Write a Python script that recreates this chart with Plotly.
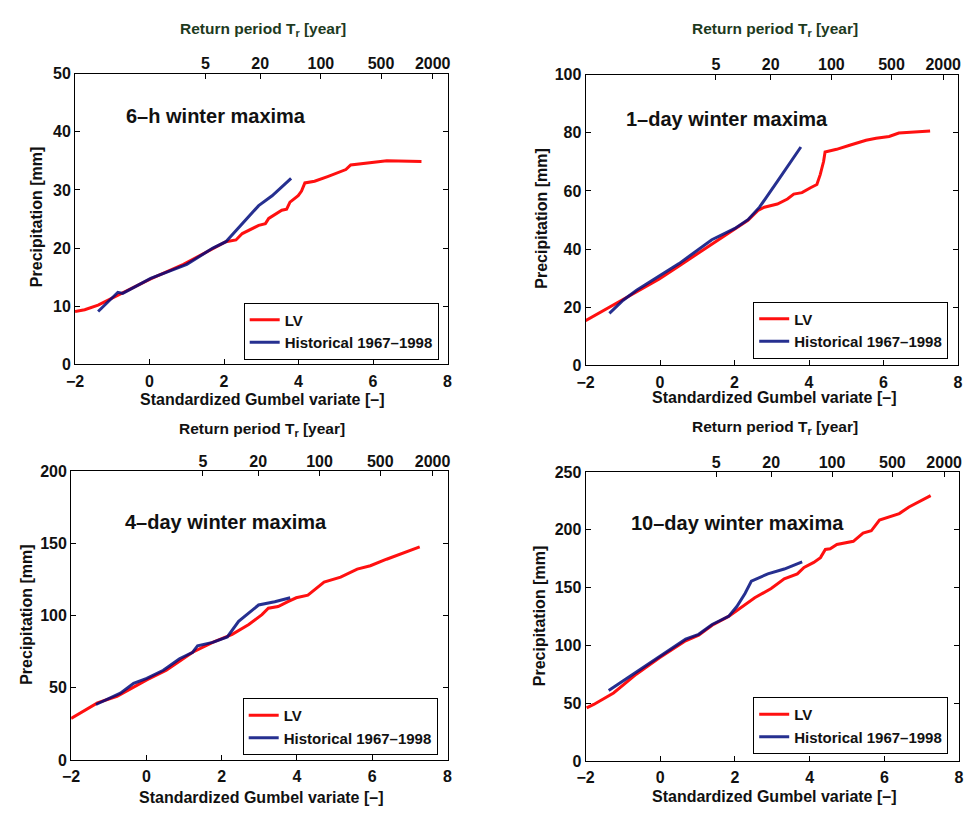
import numpy as np
import plotly.graph_objects as go

# ---------------- data ----------------
panel_titles = ["6\u2013h winter maxima", "1\u2013day winter maxima",
                "4\u2013day winter maxima", "10\u2013day winter maxima"]
y_ranges = [[0, 50], [0, 100], [0, 200], [0, 250]]
y_dticks = [10, 20, 50, 50]

return_periods = [5, 20, 100, 500, 2000]
return_labels = ["5", "20", "100", "500", "2000"]
x_ticks = [-2, 0, 2, 4, 6, 8]

# 6-h
lv_6h_x = [-2.0, -1.74, -1.38, -0.85, 0.03, 0.91, 1.7, 2.05, 2.32, 2.49, 2.93, 3.11, 3.2, 3.55, 3.68,
           3.77, 3.99, 4.08, 4.17, 4.43, 4.78, 5.05, 5.27, 5.4, 5.75, 6.37, 7.3]
lv_6h_y = [9.1, 9.4, 10.2, 11.9, 14.7, 17.2, 20.0, 21.1, 21.4, 22.5, 23.9, 24.2, 25.1, 26.5, 26.7,
           27.9, 29.0, 29.8, 31.2, 31.5, 32.3, 32.9, 33.5, 34.3, 34.6, 35.0, 34.9]
hist_6h_x = [-1.38, -1.12, -0.85, -0.72, 0.03, 1.0, 1.7, 2.05, 2.41, 2.93, 3.29, 3.8]
hist_6h_y = [9.1, 10.8, 12.4, 12.2, 14.8, 17.2, 20.0, 21.1, 23.6, 27.3, 29.0, 32.0]

# 1-day
lv_1d_x = [-2.0, -1.34, -0.63, -0.02, 0.51, 1.04, 1.57, 2.01, 2.36, 2.63, 2.8, 3.15, 3.42, 3.59, 3.81,
           4.04, 4.21, 4.3, 4.39, 4.43, 4.74, 5.09, 5.53, 5.8, 6.15, 6.41, 6.85, 7.25]
lv_1d_y = [15.4, 20.2, 25.2, 29.7, 34.2, 38.7, 43.2, 46.7, 49.9, 53.3, 54.4, 55.5, 57.2, 58.9, 59.4,
           61.1, 62.2, 65.6, 70.1, 73.4, 74.3, 75.7, 77.4, 78.1, 78.7, 79.9, 80.4, 80.6]
hist_1d_x = [-1.36, -0.99, -0.63, -0.02, 0.51, 1.39, 2.01, 2.36, 2.67, 3.15, 3.78]
hist_1d_y = [17.9, 22.4, 25.8, 30.8, 35.0, 43.2, 47.1, 50.1, 54.4, 63.3, 75.1]

# 4-day
lv_4d_x = [-2.0, -1.3, -0.78, 0.01, 0.53, 1.23, 1.76, 2.28, 2.72, 3.07, 3.24, 3.5, 3.76, 3.98, 4.29,
           4.72, 5.16, 5.6, 5.95, 6.38, 7.26]
lv_4d_y = [28.7, 39.5, 44.1, 55.4, 62.1, 74.6, 81.4, 87.0, 93.8, 100.6, 105.1, 106.2, 109.6, 112.3, 114.1,
           123.2, 126.6, 132.2, 134.5, 139.0, 147.6]
hist_4d_x = [-1.34, -1.04, -0.69, -0.34, 0.01, 0.45, 0.88, 1.23, 1.36, 1.76, 2.15, 2.45, 2.98, 3.41, 3.82]
hist_4d_y = [38.4, 41.8, 46.3, 53.1, 56.5, 62.1, 70.1, 74.6, 79.1, 81.4, 85.2, 96.0, 107.3, 109.6, 112.3]

# 10-day
lv_10d_x = [-1.97, -1.78, -1.25, -0.64, -0.02, 0.68, 1.03, 1.39, 1.83, 2.27, 2.53, 2.97, 3.32, 3.67, 3.85,
            4.11, 4.29, 4.42, 4.55, 4.73, 5.17, 5.43, 5.65, 5.87, 6.14, 6.4, 6.66, 7.24]
lv_10d_y = [46.0, 48.9, 58.8, 75.1, 89.3, 104.0, 108.8, 117.5, 125.1, 135.0, 141.2, 149.2, 157.6, 161.9, 167.5,
            171.8, 176.0, 183.1, 183.6, 187.3, 190.1, 197.2, 199.2, 208.5, 211.3, 214.1, 219.8, 229.7]
hist_10d_x = [-1.38, -0.9, -0.37, 0.15, 0.68, 1.03, 1.39, 1.83, 2.05, 2.27, 2.44, 2.88, 3.32, 3.8]
hist_10d_y = [61.0, 71.5, 82.8, 94.1, 105.4, 109.6, 118.1, 125.1, 133.6, 144.9, 155.6, 161.9, 166.1, 172.3]

lv_x = [lv_6h_x, lv_1d_x, lv_4d_x, lv_10d_x]
lv_y = [lv_6h_y, lv_1d_y, lv_4d_y, lv_10d_y]
hist_x = [hist_6h_x, hist_1d_x, hist_4d_x, hist_10d_x]
hist_y = [hist_6h_y, hist_1d_y, hist_4d_y, hist_10d_y]

# ---------------- layout geometry ----------------
W, H = 967, 814
# plot areas in pixels: (left, right, top, bottom)
boxes = [(67, 445, 67, 364), (585, 963, 68, 365), (63, 445, 473, 768), (585, 964, 474, 769)]

FONT = "Liberation Sans, Arial, Helvetica, sans-serif"
RED = "#ff1010"
BLUE = "rgba(0,12,125,0.85)"
TXT = "#111111"

# Gumbel reduced variate of return periods (top axis scale)
gumbel_ticks = [float(-np.log(-np.log(1 - 1 / T))) for T in return_periods]

fig = go.Figure()
annotations = []
layout = dict(width=W, height=H, margin=dict(l=0, r=0, t=0, b=0),
              paper_bgcolor="white", plot_bgcolor="white", showlegend=True,
              font=dict(family=FONT, size=16, color=TXT, weight="bold"))

def px(x):
    return x / W

def py(y):
    return 1 - y / H

tickfont = dict(size=16, family=FONT, weight="bold", color=TXT)

for i in range(4):
    n = i + 1
    xa = "x" if n == 1 else f"x{n}"
    ya = "y" if n == 1 else f"y{n}"
    lg = "legend" if n == 1 else f"legend{n}"
    l, r, t, b = boxes[i]
    fig.add_trace(go.Scatter(x=lv_x[i], y=lv_y[i], xaxis=xa, yaxis=ya, mode="lines", name="LV",
                             line=dict(color=RED, width=3), legend=lg))
    fig.add_trace(go.Scatter(x=hist_x[i], y=hist_y[i], xaxis=xa, yaxis=ya, mode="lines",
                             name="Historical 1967\u20131998",
                             line=dict(color=BLUE, width=3), legend=lg))
    xkey = "xaxis" if n == 1 else f"xaxis{n}"
    ykey = "yaxis" if n == 1 else f"yaxis{n}"
    layout[xkey] = dict(domain=[px(l), px(r)], anchor=ya, range=[-2, 8], tickvals=x_ticks,
                        ticks="inside", ticklen=5, tickcolor="black", showline=True, linecolor="black",
                        linewidth=1, mirror=True, showgrid=False, zeroline=False,
                        tickfont=tickfont, ticklabelstandoff=2)
    layout[ykey] = dict(domain=[py(b), py(t)], anchor=xa, range=y_ranges[i], dtick=y_dticks[i],
                        ticks="inside", ticklen=5, tickcolor="black", showline=True, linecolor="black",
                        linewidth=1, mirror="ticks", showgrid=False, zeroline=False,
                        tickfont=tickfont)
    # top axis: return period
    tn = n + 4
    layout[f"xaxis{tn}"] = dict(overlaying=xa, anchor=ya, side="top", range=[-2, 8],
                                tickvals=gumbel_ticks, ticktext=return_labels, ticks="inside",
                                ticklen=5, tickcolor="black", showline=False, showgrid=False,
                                zeroline=False, tickfont=tickfont)
    fig.add_trace(go.Scatter(x=lv_x[i], y=lv_y[i], xaxis=f"x{tn}", yaxis=ya, mode="lines",
                             line=dict(width=0), opacity=0, showlegend=False, hoverinfo="skip"))
    # legend
    lr = {1: 436, 2: 953, 3: 435, 4: 953}[n]
    lb = {1: 359, 2: 358, 3: 763, 4: 762}[n]
    layout[lg] = dict(x=px(lr), y=py(lb), xanchor="right", yanchor="bottom",
                      bgcolor="white", bordercolor="black", borderwidth=1,
                      font=dict(size=15, family=FONT, weight="bold", color=TXT),
                      tracegroupgap=0, itemwidth=30)
    common = dict(xref="paper", yref="paper", showarrow=False, xanchor="center", yanchor="middle")
    # panel title
    annotations.append(dict(x=px([210, 729, 220, 739][i]), y=py([110, 113, 525, 526][i]),
                            text=panel_titles[i],
                            font=dict(size=20, family=FONT, weight="bold", color=TXT), **common))
    # top title
    annotations.append(dict(x=px([258, 777, 257, 777][i]), y=py([22, 22, 430, 428][i]),
                            text="Return period T<sub>r</sub> [year]",
                            font=dict(size=15.5, family=FONT, weight="bold",
                                      color=["#1d3a1d", "#1d3a1d", TXT, TXT][i]), **common))
    # bottom title
    annotations.append(dict(x=px([257, 777, 256, 777][i]), y=py([400, 398, 806, 805][i]),
                            text="Standardized Gumbel variate [\u2013]",
                            font=dict(size=16, family=FONT, weight="bold", color=TXT), **common))
    # y title
    annotations.append(dict(x=px([28, 540, 17, 538][i]), y=py([214, 215, 620, 621][i]),
                            text="Precipitation [mm]", textangle=-90,
                            font=dict(size=16, family=FONT, weight="bold", color=TXT), **common))

layout["annotations"] = annotations
fig.update_layout(**layout)
fig.write_html("out.html", config={"displayModeBar": False},
               post_script="document.body.style.margin='0';document.body.style.overflow='hidden';")
